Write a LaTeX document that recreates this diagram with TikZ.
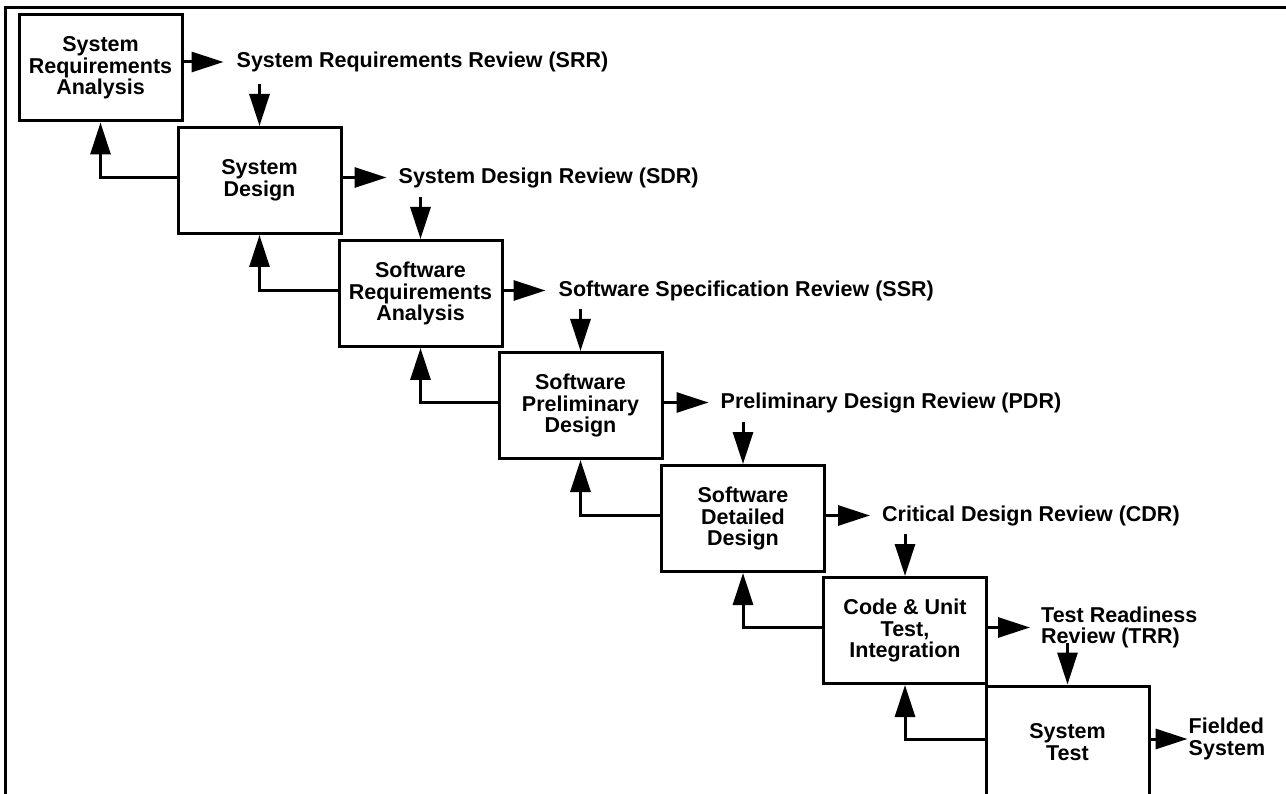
\documentclass[tikz,border=0pt]{standalone}
\usepackage{fontspec}
\setmainfont{Liberation Sans}
\usetikzlibrary{arrows.meta}
\begin{document}
\begin{tikzpicture}[x=1pt,y=-1pt,
  txt/.style={font=\bfseries\fontsize{21.5}{21.5}\selectfont},
  phase/.style={txt, draw, line width=3pt, minimum width=163pt,
    minimum height=106pt, inner sep=2pt, align=center},
  review/.style={txt, inner sep=0pt, anchor=west, align=left},
  flow/.style={line width=3pt, -{Triangle[length=32pt,width=20pt]}}]

\useasboundingbox (0,0) rectangle (1286,794);
\clip (0,0) rectangle (1286,794);

% page frame (top and left rules)
\draw[line width=3pt] (5,794) -- (5,8) -- (1286,8);

% development phases, stepping down to the right
\node[phase] (b1) at (100.5,68)   {System\\Requirements\\Analysis};
\node[phase] (b2) at (259.5,180.5) {System\\Design};
\node[phase] (b3) at (420.5,293.5) {Software\\Requirements\\Analysis};
\node[phase] (b4) at (580.5,405.5) {Software\\Preliminary\\Design};
\node[phase] (b5) at (743,518.5)   {Software\\Detailed\\Design};
\node[phase] (b6) at (905,630.5)   {Code \& Unit\\Test,\\Integration};
\node[phase, minimum height=112pt] (b7) at (1067.5,742) {System\\Test};

% reviews closing each phase
\node[review] (r1) at ([xshift=53pt,yshift=6pt]b1.east) {System Requirements Review (SRR)};
\node[review] (r2) at ([xshift=56pt,yshift=3pt]b2.east) {System Design Review (SDR)};
\node[review] (r3) at ([xshift=55pt,yshift=3pt]b3.east) {Software Specification Review (SSR)};
\node[review] (r4) at ([xshift=57pt,yshift=3pt]b4.east) {Preliminary Design Review (PDR)};
\node[review] (r5) at ([xshift=56pt,yshift=3pt]b5.east) {Critical Design Review (CDR)};
\node[review] (r6) at ([xshift=53pt,yshift=3pt]b6.east) {Test Readiness\\Review (TRR)};
\node[review] (r7) at ([xshift=38pt,yshift=3pt]b7.east) {Fielded\\System};

% phase -> review
\draw[flow] ([yshift=6pt]b1.east) -- ([xshift=-13pt]r1.west);
\draw[flow] ([yshift=3pt]b2.east) -- ([xshift=-12pt]r2.west);
\draw[flow] ([yshift=3pt]b3.east) -- ([xshift=-13pt]r3.west);
\draw[flow] ([yshift=3pt]b4.east) -- ([xshift=-12pt]r4.west);
\draw[flow] ([yshift=3pt]b5.east) -- ([xshift=-12pt]r5.west);
\draw[flow] ([yshift=3pt]b6.east) -- ([xshift=-11pt]r6.west);
\draw[flow] ([yshift=3pt]b7.east) -- ([xshift=-1pt]r7.west);

% review -> next phase
\foreach \n in {b2,b3,b4,b5,b6,b7}
  \draw[flow] ([yshift=42pt]\n.north) -- (\n.north);

% feedback to the previous phase
\draw[flow] ([yshift=3pt]b2.west) -| (b1.south);
\draw[flow] ([yshift=3pt]b3.west) -| (b2.south);
\draw[flow] ([yshift=3pt]b4.west) -| (b3.south);
\draw[flow] ([yshift=3pt]b5.west) -| (b4.south);
\draw[flow] ([yshift=3pt]b6.west) -| (b5.south);
\draw[flow] ([yshift=3pt]b7.west) -| (b6.south);
\end{tikzpicture}
\end{document}
